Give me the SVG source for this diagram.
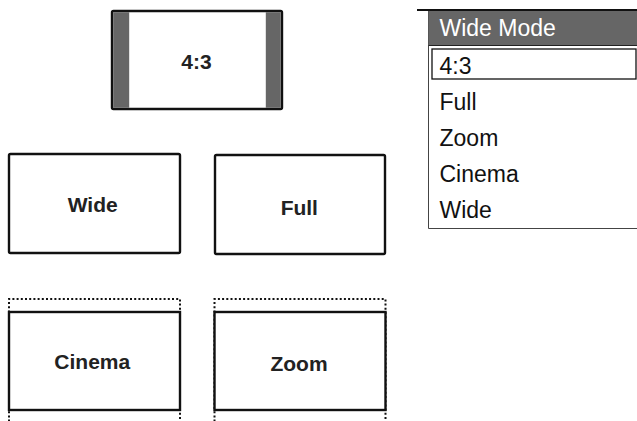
<svg xmlns="http://www.w3.org/2000/svg" width="637" height="421" viewBox="0 0 637 421">
  <style>
    .frame { fill: #ffffff; stroke: #111111; stroke-width: 2.4; }
    .bar { fill: #666666; }
    .dots { fill: none; stroke: #111111; stroke-width: 2; stroke-dasharray: 2 2.2; }
    .lbl { font-family: "Liberation Sans", Arial, sans-serif; font-weight: bold; font-size: 21px; fill: #222222; text-anchor: middle; }
    .item { font-family: "Liberation Sans", Arial, sans-serif; font-size: 23px; fill: #111111; }
    .head { font-family: "Liberation Sans", Arial, sans-serif; font-size: 23px; fill: #ffffff; }
  </style>
  <rect width="637" height="421" fill="#ffffff"/>
  <g id="connectors"/>
  <g id="node-43">
    <rect class="frame" x="112" y="11" width="170" height="98" rx="1.5"/>
    <rect class="bar" x="113.2" y="12.2" width="16" height="95.6"/>
    <rect class="bar" x="265.8" y="12.2" width="15" height="95.6"/>
    <text class="lbl" x="196.5" y="69">4:3</text>
  </g>
  <g id="node-wide">
    <rect class="frame" x="9" y="154" width="171" height="99" rx="1.5"/>
    <text class="lbl" x="92.7" y="212.3">Wide</text>
  </g>
  <g id="node-full">
    <rect class="frame" x="215" y="155" width="170" height="99" rx="1.5"/>
    <text class="lbl" x="299.3" y="215">Full</text>
  </g>
  <g id="node-cinema">
    <path class="dots" d="M9 430 V299 H180 V430"/>
    <rect class="frame" x="9" y="312" width="171" height="98"/>
    <text class="lbl" x="92.3" y="369.3">Cinema</text>
  </g>
  <g id="node-zoom">
    <path class="dots" d="M214.5 430 V299 H385.5 V430"/>
    <rect class="frame" x="214.5" y="312" width="171" height="98"/>
    <text class="lbl" x="299" y="370.7">Zoom</text>
  </g>
  <g id="node-menu">
    <path d="M428.5 11 V228.5 H640" fill="none" stroke="#444444" stroke-width="1"/>
    <rect x="428.5" y="10" width="210" height="36" fill="#666666"/>
    <line x1="417" y1="10" x2="637" y2="10" stroke="#111111" stroke-width="2"/>
    <line x1="428.5" y1="45.5" x2="637" y2="45.5" stroke="#222222" stroke-width="1"/>
    <text class="head" x="439.5" y="36">Wide Mode</text>
    <rect x="432" y="49" width="204" height="30" fill="#ffffff" stroke="#111111" stroke-width="1.3"/>
    <text class="item" x="439.5" y="74">4:3</text>
    <text class="item" x="439.5" y="110">Full</text>
    <text class="item" x="439.5" y="146">Zoom</text>
    <text class="item" x="439.5" y="182">Cinema</text>
    <text class="item" x="439.5" y="217.5">Wide</text>
  </g>
</svg>
